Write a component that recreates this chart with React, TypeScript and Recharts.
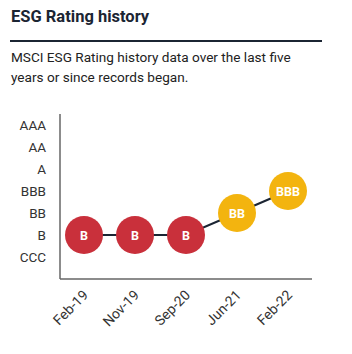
import { Line, LineChart, XAxis, YAxis } from 'recharts';

const ratingScale = ['CCC', 'B', 'BB', 'BBB', 'A', 'AA', 'AAA'];
const dates = ['Feb-19', 'Nov-19', 'Sep-20', 'Jun-21', 'Feb-22'];
const ratings = ['B', 'B', 'B', 'BB', 'BBB'];

const data = dates.map((d, i) => ({ date: d, rating: ratings[i], level: ratingScale.indexOf(ratings[i]) }));

const FONT = 'Roboto, "Liberation Sans", Arial, sans-serif';

// laggards red, average yellow
const dotColor = (r: string) => (r === 'CCC' || r === 'B' ? '#c9303b' : '#f3b40f');

function RatingDot(props: any) {
  const { cx, cy, payload } = props;
  if (cx == null || cy == null) return null;
  return (
    <g>
      <circle cx={cx} cy={cy} r={19} fill={dotColor(payload.rating)} />
      <text x={cx} y={cy} dy={4.5} textAnchor="middle" fill="#fff" fontSize={12.5} fontWeight={700} fontFamily={FONT}>
        {payload.rating}
      </text>
    </g>
  );
}

function DateTick(props: any) {
  const { x, y, payload } = props;
  return (
    <text
      x={x + 5}
      y={y + 9}
      transform={`rotate(-45 ${x + 5} ${y + 9})`}
      textAnchor="end"
      fill="#333"
      fontSize={14}
      fontFamily={FONT}
    >
      {payload.value}
    </text>
  );
}

export default function App() {
  return (
    <div style={{ position: 'absolute', left: 0, top: 0, width: 352, height: 354, background: '#fff', fontFamily: FONT }}>
      <div style={{ position: 'absolute', left: 11, top: 7, fontSize: 16.5, fontWeight: 700, color: '#1b2533' }}>
        ESG Rating history
      </div>
      <div style={{ position: 'absolute', left: 10, top: 40, width: 312, height: 2, background: '#1b2533' }} />
      <div style={{ position: 'absolute', left: 11, top: 47, width: 300, fontSize: 13.6, lineHeight: '20px', color: '#222' }}>
        MSCI ESG Rating history data over the last five years or since records began.
      </div>
      <div style={{ position: 'absolute', left: 0, top: 100 }}>
        <LineChart width={352} height={254} data={data} margin={{ top: 14, right: 40, bottom: 15, left: 10 }}>
          <XAxis
            dataKey="date"
            height={60}
            padding={{ left: 24, right: 24 }}
            tickLine={false}
            axisLine={{ stroke: '#666', strokeWidth: 1.5 }}
            tick={<DateTick />}
            interval={0}
          />
          <YAxis
            type="number"
            dataKey="level"
            width={50}
            domain={[-1, 6.5]}
            ticks={[0, 1, 2, 3, 4, 5, 6]}
            tickFormatter={(v: number) => ratingScale[v]}
            tickLine={false}
            tickMargin={8}
            axisLine={{ stroke: '#666', strokeWidth: 1.5 }}
            tick={{ fill: '#333', fontSize: 13.5, fontFamily: FONT }}
          />
          <Line
            type="linear"
            dataKey="level"
            stroke="#1b2533"
            strokeWidth={2}
            dot={<RatingDot />}
            activeDot={false}
            isAnimationActive={false}
          />
        </LineChart>
      </div>
    </div>
  );
}
